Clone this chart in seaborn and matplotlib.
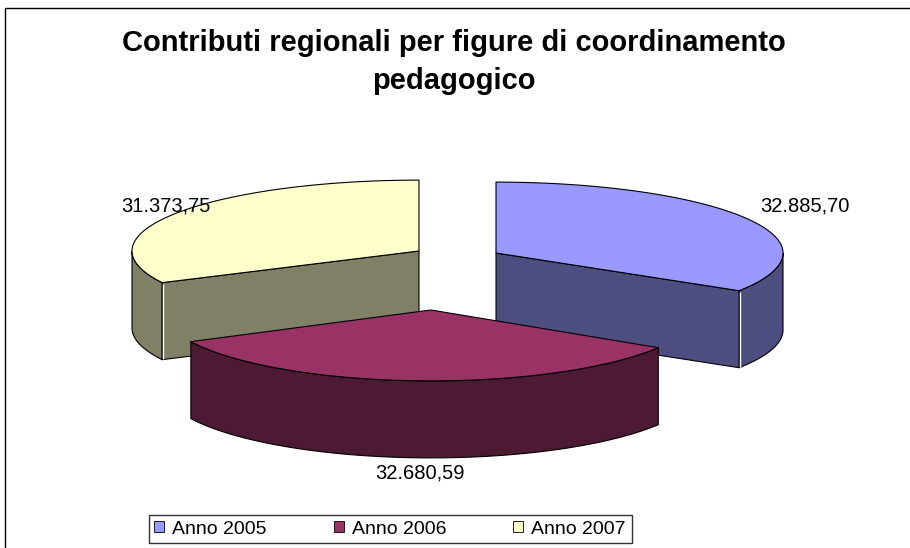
import matplotlib
matplotlib.use("Agg")
import matplotlib.pyplot as plt
from matplotlib.patches import Patch, Polygon, Rectangle
import numpy as np
import seaborn as sns


YEARS = ["Anno 2005", "Anno 2006", "Anno 2007"]
VALUES = [32885.70, 32680.59, 31373.75]
TOP_COLORS = ["#9999FF", "#993366", "#FFFFCC"]
TITLE = "Contributi regionali per figure di coordinamento\npedagogico"

# pie geometry, in pixels of the 910x548 canvas
CENTER = (456, 262)
RADIUS = 287
TILT = 0.247
DEPTH = 77
EXPLODE = [(40, -9), (-25, 48), (-37, -11)]
WIDTH_SCALE = [1.0, 0.935, 1.0]   # the front slice looks a bit narrower in the original
LABEL_SHIFT = [(58, -13), (2, 15), (-9, -8)]


def it_number(x: float) -> str:
    s = f"{x:,.2f}"
    return s.replace(",", "X").replace(".", ",").replace("X", ".")


def darker(color: str) -> tuple:
    rgb = np.array(matplotlib.colors.to_rgb(color))
    return tuple(rgb * 0.5)


def rim(cx: float, cy: float, angles, dz: float = 0, sx: float = 1.0) -> np.ndarray:
    # angles are degrees clockwise from 12 o'clock
    t = np.radians(angles)
    x = cx + RADIUS * sx * np.sin(t)
    y = cy - RADIUS * TILT * np.cos(t) + dz
    return np.column_stack([x, y])


def draw_slice(ax, start: float, end: float, offset: tuple, color: str, sx: float):
    cx, cy = CENTER[0] + offset[0], CENTER[1] + offset[1]
    side = darker(color)
    style = dict(edgecolor="black", linewidth=0.8, joinstyle="round")

    # outer wall, only the part facing the viewer
    a, b = max(start, 90), min(end, 270)
    wall = a < b
    if wall:
        ang = np.linspace(a, b, 80)
        pts = np.vstack([rim(cx, cy, ang, sx=sx), rim(cx, cy, ang[::-1], DEPTH, sx)])
        ax.add_patch(Polygon(pts, closed=True, facecolor=side, **style))

    # cut faces that face the viewer
    for ang, sign in ((start, -1), (end, 1)):
        normal_up = sign * -np.sin(np.radians(ang))
        if normal_up < -1e-6:
            p_top = rim(cx, cy, [ang], sx=sx)[0]
            pts = [(cx, cy), p_top, (p_top[0], p_top[1] + DEPTH), (cx, cy + DEPTH)]
            ax.add_patch(Polygon(pts, closed=True, facecolor=side, **style))
            if wall and 90 < ang < 270:
                # thin light seam where the cut meets the wall
                ax.plot([p_top[0] + 0.8] * 2, [p_top[1] + 1, p_top[1] + DEPTH - 1],
                        color="white", linewidth=1.0, solid_capstyle="butt")

    # top face
    ang = np.linspace(start, end, 160)
    pts = np.vstack([[cx, cy], rim(cx, cy, ang, sx=sx)])
    ax.add_patch(Polygon(pts, closed=True, facecolor=color, **style))
    return cx, cy


sns.set_theme(style="white")
plt.rcParams["font.family"] = ["Liberation Sans", "DejaVu Sans"]
plt.rcParams["text.color"] = "black"

fig = plt.figure(figsize=(9.10, 5.48), dpi=100)
ax = fig.add_axes([0, 0, 1, 1])
ax.set_xlim(0, 910)
ax.set_ylim(548, 0)
ax.axis("off")

# chart area border
ax.add_patch(Rectangle((5, 8), 920, 560, facecolor="none", edgecolor="black", linewidth=1.0))

total = sum(VALUES)
bounds = np.concatenate([[0], np.cumsum(VALUES) / total * 360])
slices = list(zip(bounds[:-1], bounds[1:], EXPLODE, TOP_COLORS, VALUES, LABEL_SHIFT, WIDTH_SCALE))

# back slices first, the front one last
order = sorted(range(len(slices)), key=lambda i: -np.cos(np.radians((bounds[i] + bounds[i + 1]) / 2)))
for i in order:
    start, end, off, col, val, shift, sx = slices[i]
    cx, cy = draw_slice(ax, start, end, off, col, sx)
    mid = (start + end) / 2
    px, py = rim(cx, cy, [mid], sx=sx)[0]
    if np.cos(np.radians(mid)) < 0:
        py += DEPTH
    ax.text(px + shift[0], py + shift[1], it_number(val), ha="center", va="center",
            fontsize=14.5, color="black")

ax.text(454, 62, TITLE, ha="center", va="center", fontsize=21, fontweight="bold",
        linespacing=1.45, color="black")

handles = [Patch(facecolor=c, edgecolor="black", linewidth=0.6) for c in TOP_COLORS]
leg = fig.legend(handles, YEARS, ncol=3, loc="center", bbox_to_anchor=(390 / 910, 1 - 529 / 548),
                 fontsize=14, frameon=True, fancybox=False, edgecolor="black",
                 handlelength=0.52, handleheight=0.52, handletextpad=0.4, columnspacing=3.45,
                 borderpad=0.3, borderaxespad=0, labelcolor="black")
leg.get_frame().set_linewidth(1.0)

fig.savefig("out.png", dpi=100)
